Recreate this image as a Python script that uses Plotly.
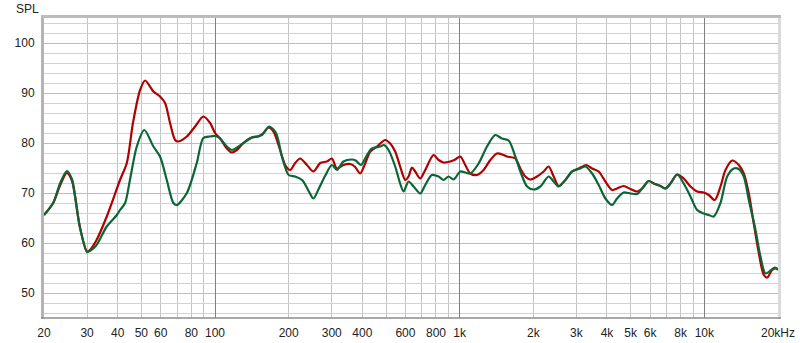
import math
import plotly.graph_objects as go

# ---- data ----
red_freq = [20, 21.8, 23.3, 24.8, 26.0, 26.8, 28.0, 30.0, 30.8, 32.8, 36.1, 40.9, 43.6, 46.2, 49.4, 51.8,
            56, 59.6, 62.5, 65.5, 68.7, 70.5, 76.7, 82.9, 89.6, 95.5, 100, 104.9, 111.8, 117.1, 122.8,
            130.7, 141.4, 150.5, 157.7, 165.4, 173.3, 184.6, 193.5, 202.8, 212.6, 222.9, 237.5, 252.6,
            269.2, 286.6, 300.4, 314.8, 335, 357, 374, 392, 411, 431, 459, 496, 520, 545, 571, 599, 618,
            638, 658, 690, 723, 782, 820, 859, 915, 959, 1006, 1054, 1105, 1177, 1252, 1334, 1421, 1512,
            1561, 1688, 1770, 1855, 1944, 2070, 2204, 2310, 2422, 2538, 2704, 2880, 3064, 3294, 3478,
            3700, 3940, 4198, 4398, 4680, 4986, 5312, 5568, 5922, 6210, 6614, 6934, 7268, 7740, 8236,
            8774, 9344, 9944, 10424, 11030, 11640, 12202, 12998, 13828, 14494, 15194, 15924, 16694,
            17496, 18066, 18940, 19720, 20000]
red_spl = [65.6, 68.0, 71.6, 74.0, 72.5, 69.3, 63.3, 58.3, 58.6, 60.6, 65.3, 72.6, 76.0, 84.0, 90.6, 92.5,
           90.3, 89.3, 88.0, 84.0, 80.6, 80.3, 81.3, 83.3, 85.3, 84.0, 82.0, 80.9, 78.9, 78.1, 78.6,
           80.0, 81.1, 81.3, 82.0, 83.1, 82.3, 78.6, 75.6, 74.6, 76.0, 76.9, 75.6, 74.3,
           76.0, 76.3, 76.9, 74.9, 75.6, 75.8, 75.2, 73.9, 75.9, 78.3, 79.3, 80.6, 79.9, 78.3, 75.3, 72.6, 73.3,
           75.1, 74.3, 72.9, 74.6, 77.6, 76.6, 76.1, 76.3, 76.7, 77.3, 75.6, 73.9, 73.6, 74.6, 76.6, 77.9, 77.6,
           77.3, 76.9, 74.9, 73.3, 72.7, 73.3, 74.3, 75.3, 73.3, 71.4, 72.6, 74.3, 74.9, 75.6, 74.9,
           74.3, 72.3, 70.6, 70.9, 71.4, 70.8, 70.3, 70.9, 72.4, 71.9, 71.4, 70.9, 71.9, 73.7, 72.9,
           71.3, 70.3, 70.1, 69.6, 68.6, 71.3, 74.6, 76.5, 75.6, 73.9, 69.9, 63.9, 58.0,
           53.6, 53.1, 54.6, 54.9, 54.6]

green_freq = [20, 21.8, 23.3, 24.8, 26.0, 26.8, 28.0, 30.0, 30.8, 32.8, 36.1, 39.7, 40.9, 42.9, 44.9, 47.9,
              51.4, 56, 59.6, 63.5, 67.6, 69.8, 76.7, 84.2, 89.6, 95.5, 100.1, 104.9, 111.8, 117.1, 130.7,
              141.4, 155.6, 166.5, 177.6, 187.6, 200, 212.6, 227, 242, 252.6, 264, 283, 300.4, 314.8, 335,
              362.7, 376, 395, 418, 438, 473, 490, 512, 545, 571, 590, 618, 648, 690, 723, 770, 820, 859,
              901, 944, 1006, 1054, 1105, 1195, 1293, 1398, 1488, 1586, 1688, 1770, 1886, 2006, 2136, 2310,
              2422, 2538, 2704, 2880, 3114, 3264, 3478, 3700, 3940, 4198, 4398, 4680, 4986, 5312, 5568,
              5922, 6210, 6614, 6934, 7268, 7740, 8236, 8774, 9344, 9944, 10424, 10926, 11640, 12398,
              13192, 13828, 14494, 15194, 16182, 16960, 17780, 18638, 19408, 20000]
green_spl = [65.6, 68.0, 72.0, 74.4, 72.8, 69.3, 63.3, 58.2, 58.4, 59.6, 63.3, 65.6, 66.6, 68.0, 72.6, 79.3,
             82.6, 79.3, 77.3, 72.6, 68.0, 67.6, 70.0, 76.0, 81.0, 81.3, 81.4, 80.9, 79.3, 78.6, 80.0,
             81.1, 81.6, 83.3, 82.0, 77.3, 73.6, 73.3, 72.6, 70.3, 68.9, 70.6, 73.6, 75.6, 74.6, 76.3,
             76.7, 76.5, 75.6, 77.6, 78.9, 79.3, 79.6, 78.6, 75.3, 71.9, 70.3, 72.3, 71.3, 69.9, 71.6, 73.6, 73.3, 72.6,
             73.3, 72.7, 74.3, 74.1, 73.9, 75.9, 79.3, 81.6, 80.9, 80.5, 77.3, 74.3, 71.3, 70.7, 71.3, 73.3,
             72.3, 71.3, 72.6, 74.3, 74.9, 75.3, 73.9, 71.6, 68.9, 67.6, 68.9, 70.1, 69.9, 69.8, 70.9,
             72.4, 71.9, 71.4, 70.9, 71.9, 73.7, 71.9, 69.3, 66.6, 65.9, 65.6, 65.3, 68.0, 73.3,
             74.9, 74.8, 73.3, 68.6, 62.6, 57.3, 53.9, 54.5, 55.1, 54.7]

x_tick_vals = [20, 30, 40, 50, 60, 80, 100, 200, 300, 400, 600, 800, 1000, 2000, 3000, 4000, 5000,
               6000, 8000, 10000, 20000]
x_tick_text = ["20", "30", "40", "50", "60", "80", "100", "200", "300", "400", "600", "800", "1k",
               "2k", "3k", "4k", "5k", "6k", "8k", "10k", "20kHz"]
x_minor_vals = [m * d for d in (10, 100, 1000) for m in range(2, 10)] + [100, 1000, 10000, 20000]
x_decades = [100, 1000, 10000]
y_tick_vals = [50, 60, 70, 80, 90, 100]

RED = "#B00000"
GREEN = "#0A6636"

W, H = 800, 343
ML, MR, MT, MB = 44, 22, 18, 25
PW, PH = W - ML - MR, H - MT - MB

fig = go.Figure()
fig.add_trace(go.Scatter(x=red_freq, y=red_spl, mode="lines",
                         line=dict(color=RED, width=2.2, shape="spline", smoothing=0.8),
                         showlegend=False, hoverinfo="skip"))
fig.add_trace(go.Scatter(x=green_freq, y=green_spl, mode="lines",
                         line=dict(color=GREEN, width=2.2, shape="spline", smoothing=0.8),
                         showlegend=False, hoverinfo="skip"))
# invisible trace for decade grid axis
fig.add_trace(go.Scatter(x=[20, 20000], y=[45, 45], xaxis="x2", mode="lines",
                         line=dict(color="rgba(0,0,0,0)"), showlegend=False, hoverinfo="skip"))

xr = [math.log10(20), math.log10(20000)]
fig.update_layout(
    width=W, height=H,
    margin=dict(l=ML, r=MR, t=MT, b=MB, pad=0, autoexpand=False),
    paper_bgcolor="white", plot_bgcolor="white",
    font=dict(family="Liberation Sans, Arial, sans-serif", size=12, color="#222222"),
    xaxis=dict(type="log", range=xr, tickvals=x_tick_vals, ticktext=x_tick_text,
               showgrid=False, zeroline=False, showline=False, automargin=False,
               ticks="outside", ticklen=4, tickcolor="rgba(0,0,0,0)",
               minor=dict(tickvals=x_minor_vals, showgrid=True, gridcolor="#C4C4C4", gridwidth=1,
                          ticks=""),
               tickfont=dict(size=12, color="#222222")),
    xaxis2=dict(type="log", range=xr, overlaying="x", tickvals=x_decades, showticklabels=False,
                showgrid=True, gridcolor="#808080", gridwidth=1, zeroline=False, ticks="",
                automargin=False),
    yaxis=dict(range=[45, 105], tickvals=y_tick_vals, showgrid=True, gridcolor="#BDBDBD",
               gridwidth=1, zeroline=False, showline=False, automargin=False,
               ticks="outside", ticklen=6, tickcolor="rgba(0,0,0,0)",
               minor=dict(dtick=2, showgrid=True, gridcolor="#D2D2D2", gridwidth=1, ticks=""),
               tickfont=dict(size=12, color="#222222")),
    annotations=[dict(text="SPL", xref="paper", yref="paper",
                      x=(27 - ML) / PW, y=1 + (MT - 9) / PH,
                      xanchor="center", yanchor="middle", showarrow=False,
                      font=dict(size=12, color="#222222"))],
    shapes=[
        # 3D-like frame
        dict(type="rect", xref="paper", yref="paper", x0=-3 / PW, x1=0, y0=-1 / PH, y1=1 + 3 / PH,
             fillcolor="#B4B4B4", line=dict(width=0), layer="above"),
        dict(type="rect", xref="paper", yref="paper", x0=-3 / PW, x1=1 + 3 / PW, y0=1, y1=1 + 3 / PH,
             fillcolor="#BCBCBC", line=dict(width=0), layer="above"),
        dict(type="rect", xref="paper", yref="paper", x0=1, x1=1 + 3 / PW, y0=-1 / PH, y1=1,
             fillcolor="#DADADA", line=dict(width=0), layer="above"),
        dict(type="line", xref="paper", yref="paper", x0=-3 / PW, x1=1 + 3 / PW, y0=0, y1=0,
             line=dict(color="#8C8C8C", width=1.5), layer="above"),
    ],
)

fig.write_html("out.html")
